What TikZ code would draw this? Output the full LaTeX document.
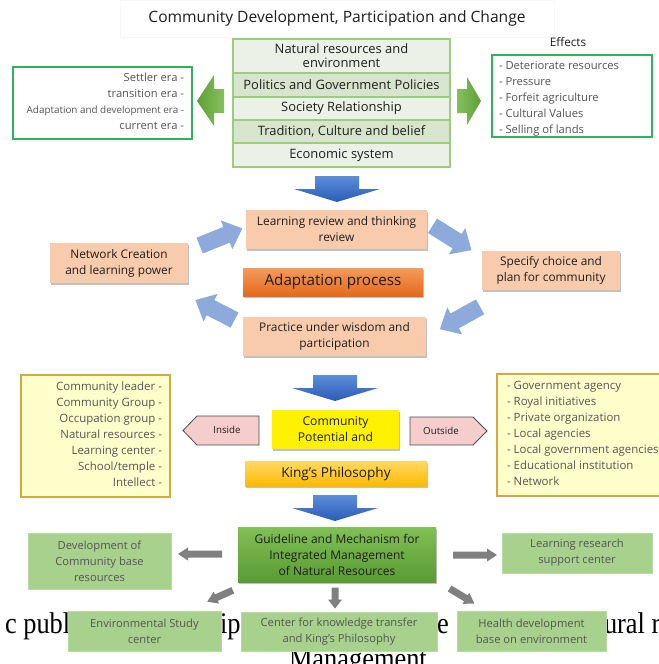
\documentclass[tikz,border=0pt]{standalone}
\usepackage{fontspec}
\setmainfont{Open Sans}
\newfontfamily\capserif{Liberation Serif}
\usetikzlibrary{shadows}
\definecolor{stackL}{HTML}{EBF1E6}
\definecolor{stackD}{HTML}{D8E5CE}
\definecolor{stackB}{HTML}{9DCB80}
\definecolor{brightG}{HTML}{2EB55A}
\definecolor{peachC}{HTML}{F8CBAD}
\definecolor{orangeT}{HTML}{F49B5C}
\definecolor{orangeB}{HTML}{E4691C}
\definecolor{yellowC}{HTML}{FFFFCC}
\definecolor{goldB}{HTML}{D6A940}
\definecolor{pinkC}{HTML}{F6CDCD}
\definecolor{kingT}{HTML}{FFD966}
\definecolor{kingB}{HTML}{FFBA00}
\definecolor{guideT}{HTML}{80C055}
\definecolor{guideB}{HTML}{5A9A33}
\definecolor{lgreenC}{HTML}{A9D18E}
\definecolor{lblueC}{HTML}{8EAADB}
\definecolor{grayA}{HTML}{808080}
\definecolor{blueT}{HTML}{5B8EDB}
\definecolor{blueB}{HTML}{2C5CB6}
\definecolor{greenA}{HTML}{5F9F37}
\definecolor{greenB}{HTML}{86C05D}
\definecolor{txtdark}{HTML}{1E1E1E}
\definecolor{txtgray}{HTML}{555555}
\newcommand\rbox[6]{\node[#6, minimum width={(#4-#2)*0.75pt}, minimum height={(#5-#3)*0.75pt}] (#1) at ({(#2+#4)/2},{(#3+#5)/2})}
% block arrow: style, cx, cy, angle, length, shaft width, head width, head length
\newcommand\barrow[8]{\path[#1, shift={(#2,#3)}, rotate=#4] ({-#5/2},{-#6/2}) -- ({#5/2-#8},{-#6/2}) -- ({#5/2-#8},{-#7/2}) -- ({#5/2},0) -- ({#5/2-#8},{#7/2}) -- ({#5/2-#8},{#6/2}) -- ({-#5/2},{#6/2}) -- cycle;}
\newcommand\bluedown[2]{\shade[top color=blueT, bottom color=blueB] ({#1-22},#2) -- ({#1+22},#2) -- ({#1+22},{#2+13}) -- ({#1+43},{#2+13}) -- (#1,{#2+26}) -- ({#1-43},{#2+13}) -- ({#1-22},{#2+13}) -- cycle;}
\begin{document}
\begin{tikzpicture}[x=0.75pt,y=-0.75pt,
  every node/.style={inner sep=0pt, outer sep=0pt},
  row/.style={draw=stackB, line width=0.9pt, align=center, text=txtdark, font=\fontsize{9.7}{10.5}\selectfont},
  rowL/.style={row, fill=stackL},
  rowD/.style={row, fill=stackD},
  gbox/.style={draw=brightG, line width=1.3pt, fill=white},
  ltxt/.style={text=txtgray, font=\fontsize{8.4}{9}\selectfont},
  shad/.style={drop shadow={shadow xshift=1pt, shadow yshift=-1.3pt, opacity=0.4, fill=black!60}},
  peach/.style={fill=peachC, shad, align=center, text=txtdark, font=\fontsize{8.9}{12}\selectfont},
  ybox/.style={draw=goldB, line width=0.9pt, fill=yellowC},
  ytxt/.style={text=txtgray, font=\fontsize{8.6}{9}\selectfont},
  tagshape/.style={draw=black!70, line width=0.6pt, fill=pinkC},
  tagtxt/.style={font=\fontsize{7.3}{8}\selectfont, text=txtdark},
  lg/.style={fill=lgreenC, draw=lgreenC!80!white, line width=0.5pt, align=center, text=txtgray, font=\fontsize{8.4}{12}\selectfont},
  larrow/.style={fill=lblueC},
  garrow/.style={fill=grayA},
  serifbg/.style={font=\capserif\fontsize{22.5}{26}\selectfont, text=black, xscale=0.88},
]
\useasboundingbox (0,0) rectangle (659,664);
\clip (0,0) rectangle (659,664);
\fill[white] (0,0) rectangle (659,664);

% background caption fragments
\node[serifbg, anchor=base west] (cap1) at (5,633) {c publi};
\node[serifbg, anchor=base west] (cap2) at (220,633) {ip};
\node[serifbg, anchor=base west] (cap3) at (437,633) {e};
\node[serifbg, anchor=base west] (cap4) at (604,633) {ural r};
\node[serifbg, anchor=base west] (cap5) at (289,668) {Management.};

% title
\rbox{titlebox}{120}{0}{554}{37}{draw=black!3, line width=0.5pt} {};
\node[font=\fontsize{11.7}{13}\selectfont, text=txtdark] (title) at (337,18) {Community Development, Participation and Change};

% central stack
\rbox{r1}{233}{39}{450}{73}{rowL} {Natural resources and\\environment};
\rbox{r2}{233}{73}{450}{97}{rowD} {Politics and Government Policies};
\rbox{r3}{233}{97}{450}{120}{rowL} {Society Relationship};
\rbox{r4}{233}{120}{450}{143}{rowD} {Tradition, Culture and belief};
\rbox{r5}{233}{143}{450}{167}{rowL} {Economic system};

% left era box
\rbox{erabox}{13}{67}{192}{139}{gbox} {};
\node[ltxt, anchor=base east] (e1) at (184,81.5) {Settler era -};
\node[ltxt, anchor=base east] (e2) at (184,97.5) {transition era -};
\node[ltxt, anchor=base east, font=\fontsize{7.4}{8}\selectfont] (e3) at (184,113.5) {Adaptation and development era -};
\node[ltxt, anchor=base east] (e4) at (184,129.5) {current era -};

% green side arrows
\shade[left color=greenA, right color=greenB] (197,101) -- (214,75) -- (214,89) -- (224,89) -- (224,113) -- (214,113) -- (214,126) -- cycle;
\shade[left color=greenB, right color=greenA] (481,101) -- (467,77) -- (467,89) -- (457,89) -- (457,113) -- (467,113) -- (467,125) -- cycle;

% effects
\node[font=\fontsize{8.8}{9}\selectfont, text=txtdark] (effects) at (568,42) {Effects};
\rbox{effbox}{492}{55}{652}{137}{gbox} {};
\node[ltxt, anchor=base west] (f1) at (499,69.5) {- Deteriorate resources};
\node[ltxt, anchor=base west] (f2) at (499,85.5) {- Pressure};
\node[ltxt, anchor=base west] (f3) at (499,101.5) {- Forfeit agriculture};
\node[ltxt, anchor=base west] (f4) at (499,117.5) {- Cultural Values};
\node[ltxt, anchor=base west] (f5) at (499,133.5) {- Selling of lands};

% adaptation cycle
\bluedown{337}{176}
\rbox{learn}{246}{210}{427}{249}{peach} {Learning review and thinking\\review};
\rbox{network}{50}{243}{188}{283}{peach} {Network Creation\\and learning power};
\rbox{adapt}{243}{268}{423}{296}{shad, top color=orangeT, bottom color=orangeB, text=txtdark, font=\fontsize{11.4}{12}\selectfont} {Adaptation process};
\rbox{specify}{482}{251}{620}{290}{peach} {Specify choice and\\plan for community};
\rbox{practice}{243}{317}{426}{356}{peach} {Practice under wisdom and\\participation};
\barrow{larrow}{221}{237}{22}{46}{17}{31}{17}
\barrow{larrow}{452}{238}{-32}{46}{17}{31}{17}
\barrow{larrow}{460}{318}{209}{46}{17}{31}{17}
\barrow{larrow}{215}{310}{153}{44}{17}{31}{17}

% potential
\bluedown{335}{375}
\rbox{inbox}{21}{375}{170}{497}{ybox} {};
\node[ytxt, anchor=base east] (i1) at (162,390) {Community leader -};
\node[ytxt, anchor=base east] (i2) at (162,406) {Community Group -};
\node[ytxt, anchor=base east] (i3) at (162,422) {Occupation group -};
\node[ytxt, anchor=base east] (i4) at (162,438) {Natural resources -};
\node[ytxt, anchor=base east] (i5) at (162,454) {Learning center -};
\node[ytxt, anchor=base east] (i6) at (162,470) {School/temple -};
\node[ytxt, anchor=base east] (i7) at (162,486) {Intellect -};
\rbox{outbox}{497}{374}{670}{496}{ybox} {};
\node[ytxt, anchor=base west] (o1) at (507,389) {- Government agency};
\node[ytxt, anchor=base west] (o2) at (507,405) {- Royal initiatives};
\node[ytxt, anchor=base west] (o3) at (507,421) {- Private organization};
\node[ytxt, anchor=base west] (o4) at (507,437) {- Local agencies};
\node[ytxt, anchor=base west] (o5) at (507,453) {- Local government agencies};
\node[ytxt, anchor=base west] (o6) at (507,469) {- Educational institution};
\node[ytxt, anchor=base west] (o7) at (507,485) {- Network};
\draw[tagshape] (183,430.5) -- (197,416) -- (259,416) -- (259,445) -- (197,445) -- cycle;
\node[tagtxt] (inside) at (227,430) {Inside};
\draw[tagshape] (487,431) -- (473,417) -- (410,417) -- (410,445) -- (473,445) -- cycle;
\node[tagtxt] (outside) at (441,431) {Outside};
\rbox{potential}{272}{410}{399}{449}{shad, fill=yellow, align=center, text=txtdark, font=\fontsize{9.1}{12}\selectfont} {Community\\Potential and};
\rbox{king}{245}{461}{427}{486}{shad, top color=kingT, bottom color=kingB, text=txtdark, font=\fontsize{10.2}{11}\selectfont} {King's Philosophy};

% guideline
\bluedown{335}{495}
\rbox{guide}{238}{527}{436}{582}{shad, top color=guideT, bottom color=guideB, align=center, text=txtdark, font=\fontsize{9}{12}\selectfont} {Guideline and Mechanism for\\Integrated Management\\of Natural Resources};
\rbox{devel}{28}{533}{171}{589}{lg} {Development of\\Community base\\resources};
\rbox{research}{502}{533}{652}{573}{lg} {Learning research\\support center};
\rbox{envstudy}{68}{611}{221}{651}{lg} {Environmental Study\\center};
\rbox{kcenter}{241}{612}{437}{651}{lg} {Center for knowledge transfer\\and King's Philosophy};
\rbox{health}{457}{611}{606}{651}{lg} {Health development\\base on environment};
\barrow{garrow}{200}{554}{180}{44}{7}{13}{10}
\barrow{garrow}{475}{555}{0}{44}{7}{13}{10}
\barrow{garrow}{220}{596}{204}{28}{7}{13}{10}
\barrow{garrow}{335}{598}{-90}{21}{7}{14}{9}
\barrow{garrow}{462}{596}{-31}{29}{7}{13}{10}
\end{tikzpicture}
\end{document}
